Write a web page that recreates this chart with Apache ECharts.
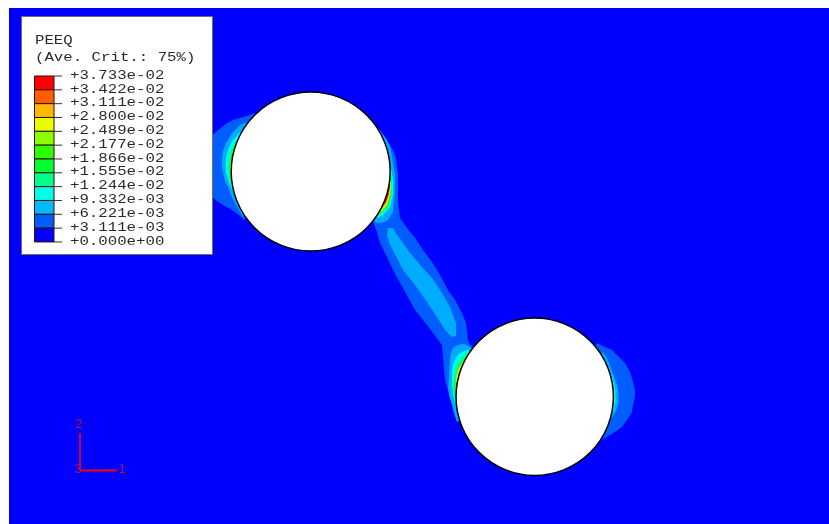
<!DOCTYPE html>
<html>
<head>
<meta charset="utf-8">
<title>PEEQ</title>
<script src="https://cdn.jsdelivr.net/npm/echarts@6/dist/echarts.min.js"></script>
<style>
  html, body { margin: 0; padding: 0; background: #fff; }
  #chart { width: 829px; height: 524px; }
</style>
</head>
<body>
<div id="chart"></div>
<script>
const legendTitle = ['PEEQ', '(Ave. Crit.: 75%)']
const tickLabels = ['+3.733e-02', '+3.422e-02', '+3.111e-02', '+2.800e-02', '+2.489e-02', '+2.177e-02',
  '+1.866e-02', '+1.555e-02', '+1.244e-02', '+9.332e-03', '+6.221e-03', '+3.111e-03', '+0.000e+00']
const bandColors = ['#ff0000', '#ff5d00', '#ffb900', '#e8ff00', '#8bff00', '#2eff00',
  '#00ff2e', '#00ff8b', '#00ffe8', '#00b9ff', '#005dff', '#0000ff']

// holes: centre x, centre y, radius
const holes = [[310.7, 171.5, 79.5], [534.7, 396.7, 78.7]]

// contour outlines, lowest level first. the parts that run inside a hole get covered by it
const contour1 = [
  [[255, 113], [247, 116], [240, 118], [233, 120], [227, 123], [222, 127], [217, 131], [212, 135], [212, 197], [217, 201],
    [223, 205], [229, 208], [235, 212], [240, 216], [244, 220], [270, 200], [270, 130]],
  [[374, 125], [378, 130], [383, 135], [388, 142], [393, 150], [396, 158], [397, 167], [398, 175], [398, 188], [398, 202],
    [400, 218], [407, 228], [415, 238], [423, 250], [432, 262], [440, 275], [448, 290], [455, 300], [462, 313], [466, 323],
    [468, 340], [470, 345], [480, 350], [480, 400], [462, 425], [458, 420], [455, 413], [452, 403], [449, 394], [445, 380],
    [443, 357], [442, 345], [427, 325], [415, 310], [403, 288], [393, 270], [387, 257], [380, 243], [377, 232], [373, 222],
    [365, 215], [340, 170]],
  [[597, 343], [605, 347], [612, 350], [618, 356], [625, 363], [630, 372], [633, 382], [635, 390], [635, 397], [633, 405],
    [632, 412], [627, 420], [622, 427], [615, 432], [610, 435], [603, 439], [598, 443], [560, 400]]
]
const contour2 = [
  [[246, 122], [239, 126], [233, 132], [229, 138], [226, 143], [223, 151], [222, 158], [222, 166], [223, 173], [225, 181],
    [228, 187], [231, 195], [235, 203], [239, 210], [243, 217], [270, 170]],
  [[377, 127], [382, 133], [387, 140], [391, 150], [393, 162], [395, 175], [395, 188], [394, 202], [393, 212], [388, 220],
    [382, 223], [375, 222.5], [350, 170]],
  [[388, 228], [393, 228], [397, 235], [403, 243], [410, 253], [422, 267], [432, 278], [442, 293], [450, 307], [456, 323],
    [456, 336], [452, 337], [445, 330], [437, 317], [427, 302], [415, 285], [403, 270], [397, 258], [390, 245], [387, 235]],
  [[470, 347], [466, 344.5], [462, 344], [457, 345.5], [453, 348], [451, 353], [450, 358], [449.5, 367], [449, 375], [448.5, 382],
    [448, 388], [449.5, 397], [452, 405], [454, 413], [457, 422], [490, 400], [490, 360]],
  [[603, 352], [607, 358], [611, 368], [614, 376], [617, 385], [618.5, 393], [618.5, 400], [617.5, 407], [615, 413], [611, 419],
    [607, 424], [580, 400]]
]
const contour3 = [
  [[240, 132], [235, 138], [231, 143], [228, 150], [226, 158], [225.5, 165], [226, 172], [228, 179], [230, 185], [234, 194],
    [237, 202], [270, 170]],
  [[388, 155], [391, 168], [393, 180], [393, 195], [390, 207], [383, 215], [377, 218], [350, 170]],
  [[468, 350], [463, 351.5], [458, 355], [455, 360], [453, 365], [452, 372], [452, 378], [452, 385], [453, 392], [454, 399],
    [455, 405], [490, 380]],
  [[608, 368], [612, 376], [614.5, 385], [615.5, 393], [615.5, 401], [614, 409], [611, 416], [580, 400]]
]
const contour4 = [
  [[235, 142], [232, 148], [230, 153], [228.5, 159], [228, 165], [228, 172], [229, 178], [231, 184], [234, 190], [270, 170]],
  [[390, 160], [392, 183], [391.5, 197], [387, 209], [377, 217], [350, 170]],
  [[467, 353], [462, 357], [458, 363], [456, 368], [455, 373], [453.5, 380], [453, 385], [453, 391], [454, 397], [490, 380]],
  [[612, 380], [614.2, 390], [614.2, 400], [613, 408], [580, 400]]
]
const contour5 = [
  [[233, 148], [231, 156], [229.3, 165], [229.8, 173], [232, 180], [270, 170]],
  [[390.5, 165], [391, 188], [390.5, 197], [387.5, 206], [380, 214], [350, 170]],
  [[463, 360], [459.5, 365], [457, 370], [456, 376], [455, 382], [455, 392], [490, 380]]
]
const contour6 = [
  [[231.5, 158], [230, 168], [231, 176], [270, 170]],
  [[390, 175], [390.5, 188], [389.5, 196], [387, 204], [382, 211], [350, 170]],
  [[463, 363], [458.5, 369], [456.5, 376], [456, 382], [490, 380]]
]
const contour7 = [
  [[390, 178], [390, 189], [389, 196], [386.5, 203], [382, 209.5], [350, 170]],
  [[461, 366], [459, 370], [457.5, 376], [490, 380]]
]
const contour8 = [
  [[389.8, 180], [389.6, 188], [388.5, 195], [386, 202], [382, 208], [350, 170]]
]
const contourLevels = [contour1, contour2, contour3, contour4, contour5, contour6, contour7, contour8]
const levelColors = ['#005dff', '#00acff', '#00ffe8', '#00ff8b', '#2eff00', '#e8ff00', '#ffb900', '#ff0000']

const chart = echarts.init(document.getElementById('chart'))

// one custom series per layer, drawn in data space so the axes do the placing
const layer = (count, draw) => ({
  type: 'custom',
  coordinateSystem: 'cartesian2d',
  silent: true,
  data: Array.from({ length: count }, (_, i) => [i, i]),
  renderItem: (params, api) => draw(params.dataIndex, api)
})

const rect = (x0, y0, x1, y1, style, api) => {
  const a = api.coord([x0, y0])
  const b = api.coord([x1, y1])
  return { type: 'rect', shape: { x: a[0], y: a[1], width: b[0] - a[0], height: b[1] - a[1] }, style }
}

const line = (x0, y0, x1, y1, stroke, lineWidth, api) => {
  const a = api.coord([x0, y0])
  const b = api.coord([x1, y1])
  return { type: 'line', shape: { x1: a[0], y1: a[1], x2: b[0], y2: b[1] }, style: { stroke, lineWidth } }
}

const monoText = (text, x, y, api) => {
  const p = api.coord([x, y])
  return {
    type: 'text', x: p[0], y: p[1], scaleX: 1.31,
    style: { text, fill: '#2a2a2a', font: '12px "Liberation Mono", monospace', align: 'left', verticalAlign: 'middle' }
  }
}

const polygons = []
contourLevels.forEach((level, l) => level.forEach(points => polygons.push({ points, color: levelColors[l] })))

const barTop = 76
const barStep = 13.83
const triad = [[80, 470, 80, 433, 1.6], [80, 470.5, 117, 470.5, 2]]
const triadLabels = [['2', 79, 425], ['3', 78, 470], ['1', 122, 470]]

chart.setOption({
  animation: false,
  grid: { left: 0, right: 0, top: 0, bottom: 0 },
  xAxis: { type: 'value', min: 0, max: 829, show: false },
  yAxis: { type: 'value', min: 0, max: 524, inverse: true, show: false },
  series: [
    layer(1, (i, api) => rect(9, 8, 829, 524, { fill: '#0000ff' }, api)),
    layer(polygons.length, (i, api) => ({
      type: 'polygon',
      shape: { points: polygons[i].points.map(p => api.coord(p)) },
      style: { fill: polygons[i].color }
    })),
    layer(holes.length, (i, api) => {
      const c = api.coord(holes[i])
      return {
        type: 'circle',
        shape: { cx: c[0], cy: c[1], r: api.size([holes[i][2], 0])[0] },
        style: { fill: '#fff', stroke: '#000', lineWidth: 1.5 }
      }
    }),
    layer(1, (i, api) => rect(21.5, 16.5, 212.5, 254.5, { fill: '#fff', stroke: '#6e6e6e', lineWidth: 1 }, api)),
    layer(bandColors.length, (i, api) => rect(34.5, barTop + i * barStep, 54, barTop + (i + 1) * barStep,
      { fill: bandColors[i], stroke: '#301010', lineWidth: 1 }, api)),
    layer(tickLabels.length, (i, api) => line(54, barTop + i * barStep, 62, barTop + i * barStep, '#333', 1, api)),
    layer(tickLabels.length, (i, api) => monoText(tickLabels[i], 70, barTop - 0.5 + i * barStep, api)),
    layer(legendTitle.length, (i, api) => monoText(legendTitle[i], 35, 41 + i * 17, api)),
    layer(triad.length, (i, api) => line(triad[i][0], triad[i][1], triad[i][2], triad[i][3], '#ff0000', triad[i][4], api)),
    layer(triadLabels.length, (i, api) => {
      const p = api.coord([triadLabels[i][1], triadLabels[i][2]])
      return {
        type: 'text', x: p[0], y: p[1],
        style: { text: triadLabels[i][0], fill: '#c0103c', font: '12px "Liberation Sans", sans-serif', align: 'center', verticalAlign: 'middle' }
      }
    })
  ]
})
</script>
</body>
</html>
